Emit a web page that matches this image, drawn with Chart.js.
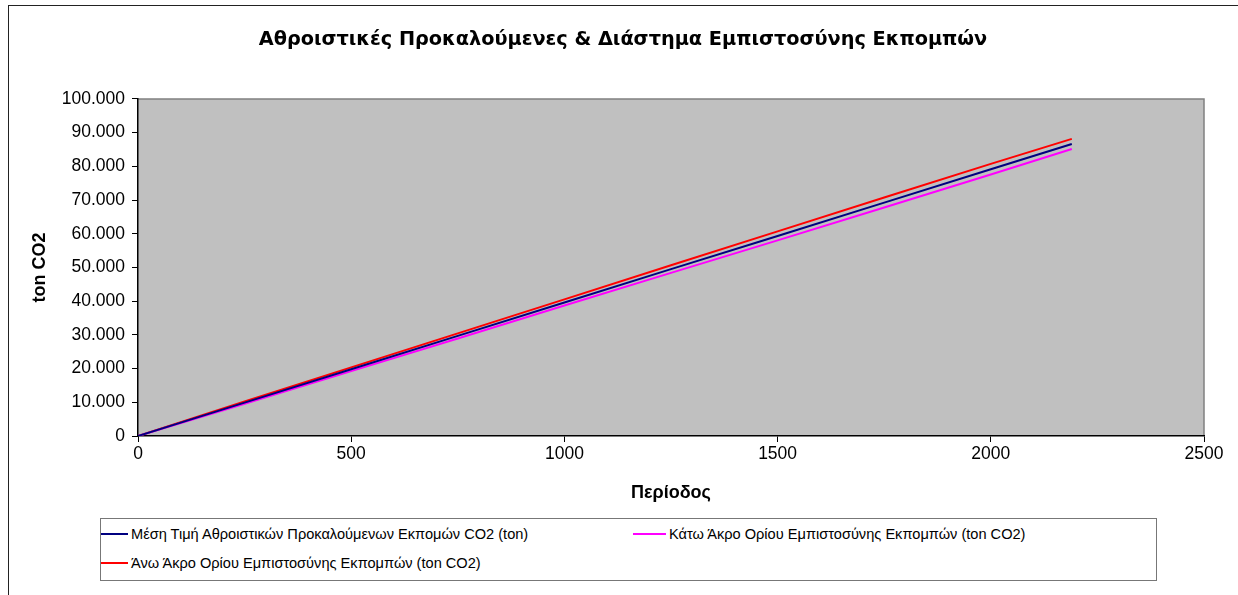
<!DOCTYPE html>
<html lang="el">
<head>
<meta charset="utf-8">
<title>Αθροιστικές Προκαλούμενες & Διάστημα Εμπιστοσύνης Εκπομπών</title>
<script src="https://cdn.jsdelivr.net/npm/chart.js@4/dist/chart.umd.min.js"></script>
<style>
  html, body { margin: 0; padding: 0; background: #fff; }
  body { width: 1238px; height: 595px; position: relative; overflow: hidden;
         font-family: "Liberation Sans", Arial, sans-serif; }
  #frame { position: absolute; left: 8px; top: 5px; width: 1300px; height: 700px;
           border-left: 1.5px solid #222; border-top: 1.5px solid #222; }
  #wrap { position: absolute; left: 0; top: 0; width: 1238px; height: 595px; }
  #legend { position: absolute; left: 100px; top: 518px; width: 1055px; height: 61px;
            border: 1.5px solid #777; background: #fff;
            display: grid; grid-template-columns: 532px 1fr; grid-auto-rows: 29px; }
  .item { display: flex; align-items: center; font-size: 14.6px; color: #000; white-space: nowrap; }
  .swatch { display: inline-block; width: 27px; height: 2px; margin-right: 3px; }
  .item.c2 .swatch { width: 33px; }
</style>
</head>
<body>
<div id="frame"></div>
<div id="wrap"><canvas id="chart" width="1238" height="595"></canvas></div>
<div id="legend"></div>
<script>
// Period (x) at which each cumulative reading was taken
const periods = [0, 250, 500, 750, 1000, 1250, 1500, 1750, 2000, 2190];

// Cumulative emissions, ton CO2
const meanCum  = [0, 9900, 19800, 29700, 39600, 49500, 59350, 69250, 79150, 86650];
const lowerCum = [0, 9550, 19250, 28950, 38700, 48400, 58050, 67800, 77600, 85150];
const upperCum = [0, 10250, 20350, 30450, 40550, 50650, 60700, 70750, 80750, 88150];

const seriesLabels = [
  'Μέση Τιμή Αθροιστικών Προκαλούμενων Εκπομών CO2 (ton)',
  'Κάτω Άκρο Ορίου Εμπιστοσύνης Εκπομπών (ton CO2)',
  'Άνω Άκρο Ορίου Εμπιστοσύνης Εκπομπών (ton CO2)'
];
const seriesColors = ['#000080', '#FF00FF', '#FF0000'];
const seriesValues = [meanCum, lowerCum, upperCum];

// Axis tick values
const xTicks = [0, 500, 1000, 1500, 2000, 2500];
const yTicks = [0, 10000, 20000, 30000, 40000, 50000, 60000, 70000, 80000, 90000, 100000];

const toPoints = vals => periods.map((p, i) => ({ x: p, y: vals[i] }));
const fmtThousands = v => String(Math.round(v)).replace(/\B(?=(\d{3})+(?!\d))/g, '.');

// Grey plot background with a darker frame on the top and right sides
const plotFrame = {
  id: 'plotFrame',
  beforeDraw(chart) {
    const { ctx, chartArea: a } = chart;
    ctx.save();
    ctx.fillStyle = '#C0C0C0';
    ctx.fillRect(a.left, a.top, a.right - a.left, a.bottom - a.top);
    ctx.strokeStyle = '#808080';
    ctx.lineWidth = 1.5;
    ctx.beginPath();
    ctx.moveTo(a.left, a.top);
    ctx.lineTo(a.right, a.top);
    ctx.lineTo(a.right, a.bottom);
    ctx.stroke();
    ctx.restore();
  }
};

const tickFont = { family: '"Liberation Sans", Arial, sans-serif', size: 17.5 };
const titleFont = { family: '"Liberation Sans", Arial, sans-serif', size: 18, weight: 'bold' };

new Chart(document.getElementById('chart'), {
  type: 'scatter',
  data: {
    datasets: seriesValues.map((vals, i) => ({
      label: seriesLabels[i],
      data: toPoints(vals),
      showLine: true,
      borderColor: seriesColors[i],
      backgroundColor: seriesColors[i],
      borderWidth: 2,
      pointRadius: 0,
      tension: 0
    }))
  },
  options: {
    responsive: false,
    animation: false,
    layout: { padding: { left: 8, right: 0, top: 0, bottom: 89 } },
    plugins: {
      legend: { display: false },
      tooltip: { enabled: false },
      title: {
        display: true,
        text: 'Αθροιστικές Προκαλούμενες & Διάστημα Εμπιστοσύνης Εκπομπών',
        color: '#000',
        font: { family: '"DejaVu Sans", Verdana, sans-serif', size: 19.3, weight: 'bold' },
        padding: { top: 28.5, bottom: 47.3 }
      }
    },
    scales: {
      x: {
        type: 'linear',
        min: 0, max: 2500,
        afterBuildTicks: s => { s.ticks = xTicks.map(v => ({ value: v })); },
        afterFit: s => { s.height = 70; },
        grid: { display: true, drawOnChartArea: false, drawTicks: true, tickLength: 6, color: '#000', lineWidth: 1 },
        border: { display: true, color: '#000', width: 1.5 },
        ticks: { color: '#000', font: tickFont, padding: 2, maxRotation: 0, callback: v => String(v) },
        title: { display: true, text: 'Περίοδος', color: '#000', font: titleFont, padding: { top: 10, bottom: 2 } }
      },
      y: {
        type: 'linear',
        min: 0, max: 100000,
        afterBuildTicks: s => { s.ticks = yTicks.map(v => ({ value: v })); },
        afterFit: s => { s.width = 130; },
        grid: { display: true, drawOnChartArea: false, drawTicks: true, tickLength: 6, color: '#000', lineWidth: 1 },
        border: { display: true, color: '#000', width: 1.5 },
        ticks: { color: '#000', font: tickFont, padding: 7, callback: v => fmtThousands(v) },
        title: { display: true, text: 'ton CO2', color: '#000', font: titleFont, padding: { top: 21, bottom: 0 } }
      },
      // Empty right-hand margin strip beside the plot
      yRight: {
        type: 'linear',
        position: 'right',
        min: 0, max: 1,
        afterFit: s => { s.width = 34; },
        grid: { display: false },
        border: { display: false },
        ticks: { display: false },
        title: { display: false }
      }
    }
  },
  plugins: [plotFrame]
});

// Legend box: two items on the first row, one on the second
const legend = document.getElementById('legend');
seriesLabels.forEach((label, i) => {
  const item = document.createElement('div');
  item.className = 'item' + (i === 1 ? ' c2' : '');
  const sw = document.createElement('span');
  sw.className = 'swatch';
  sw.style.backgroundColor = seriesColors[i];
  item.appendChild(sw);
  item.appendChild(document.createTextNode(label));
  legend.appendChild(item);
});
</script>
</body>
</html>
